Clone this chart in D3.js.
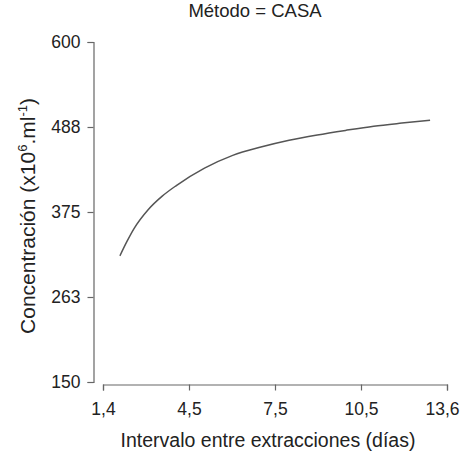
<!DOCTYPE html>
<html>
<head>
<meta charset="utf-8">
<script src="https://cdn.jsdelivr.net/npm/d3@7"></script>
<style>
  html, body { margin: 0; padding: 0; background: #fff; }
  svg { display: block; font-family: "Liberation Sans", Arial, Helvetica, sans-serif; }
</style>
</head>
<body>
<svg id="chart" width="460" height="453"></svg>
<script>
// ---- data ----
const title = "Método = CASA";
const xLabel = "Intervalo entre extracciones (días)";
const intervalDays = [2, 2.25, 2.5, 3, 3.5, 4, 5, 6, 7, 8, 9, 10, 11, 12, 13];
const concentration = [317, 336, 353, 378, 396, 410, 433, 450, 461, 470, 477, 483, 488.5, 492.7, 496.5];
const xTickValues = [1.4, 4.45, 7.5, 10.55, 13.6];
const xTickLabels = ["1,4", "4,5", "7,5", "10,5", "13,6"];
const yTickValues = [150, 262.5, 375, 487.5, 600];
const yTickLabels = ["150", "263", "375", "488", "600"];

// ---- layout ----
const svg = d3.select("#chart");
const axisColor = "#666";
const textColor = "#222";

const x = d3.scaleLinear().domain([1.4, 13.6]).range([103, 447]);
const y = d3.scaleLinear().domain([150, 600]).range([382, 42]);
const yAxisX = 93.5;
const xAxisY = 384.5;

// Y axis
const yAxis = svg.append("g")
  .attr("transform", `translate(${yAxisX},0)`)
  .call(d3.axisLeft(y).tickValues(yTickValues)
    .tickFormat((d, i) => yTickLabels[i]).tickSizeOuter(0).tickSize(6).tickPadding(7));

// X axis
const xAxis = svg.append("g")
  .attr("transform", `translate(0,${xAxisY})`)
  .call(d3.axisBottom(x).tickValues(xTickValues)
    .tickFormat((d, i) => xTickLabels[i]).tickSizeOuter(0).tickSize(6).tickPadding(12));

[yAxis, xAxis].forEach(g => {
  g.select(".domain").attr("stroke", axisColor).attr("stroke-width", 1.2);
  g.selectAll(".tick line").attr("stroke", axisColor).attr("stroke-width", 1.2);
  g.selectAll(".tick text").attr("fill", textColor)
    .style("font-size", "17.5px").style("font-family", "'Liberation Sans', Arial, sans-serif");
});
// keep the last x tick label inside the canvas
xAxis.selectAll(".tick text").filter((d, i) => i === xTickValues.length - 1)
  .attr("text-anchor", "end").attr("x", 12);

// Curve
const pts = intervalDays.map((d, i) => [d, concentration[i]]);
svg.append("path")
  .datum(pts)
  .attr("fill", "none")
  .attr("stroke", "#555")
  .attr("stroke-width", 1.5)
  .attr("d", d3.line().x(d => x(d[0])).y(d => y(d[1])).curve(d3.curveMonotoneX));

// Title
svg.append("text")
  .attr("x", 255).attr("y", 17)
  .attr("text-anchor", "middle")
  .attr("fill", textColor)
  .style("font-size", "18.5px")
  .text(title);

// X label
svg.append("text")
  .attr("x", 268).attr("y", 447)
  .attr("text-anchor", "middle")
  .attr("fill", textColor)
  .style("font-size", "19.5px")
  .text(xLabel);

// Y label with superscripts
const yl = svg.append("text")
  .attr("transform", "translate(35,216) rotate(-90)")
  .attr("text-anchor", "middle")
  .attr("fill", textColor)
  .style("font-size", "21px");
yl.append("tspan").text("Concentración (x10");
yl.append("tspan").attr("dy", -8).style("font-size", "13px").text("6");
yl.append("tspan").attr("dy", 8).text(".ml");
yl.append("tspan").attr("dy", -8).style("font-size", "13px").text("-1");
yl.append("tspan").attr("dy", 8).text(")");
</script>
</body>
</html>
